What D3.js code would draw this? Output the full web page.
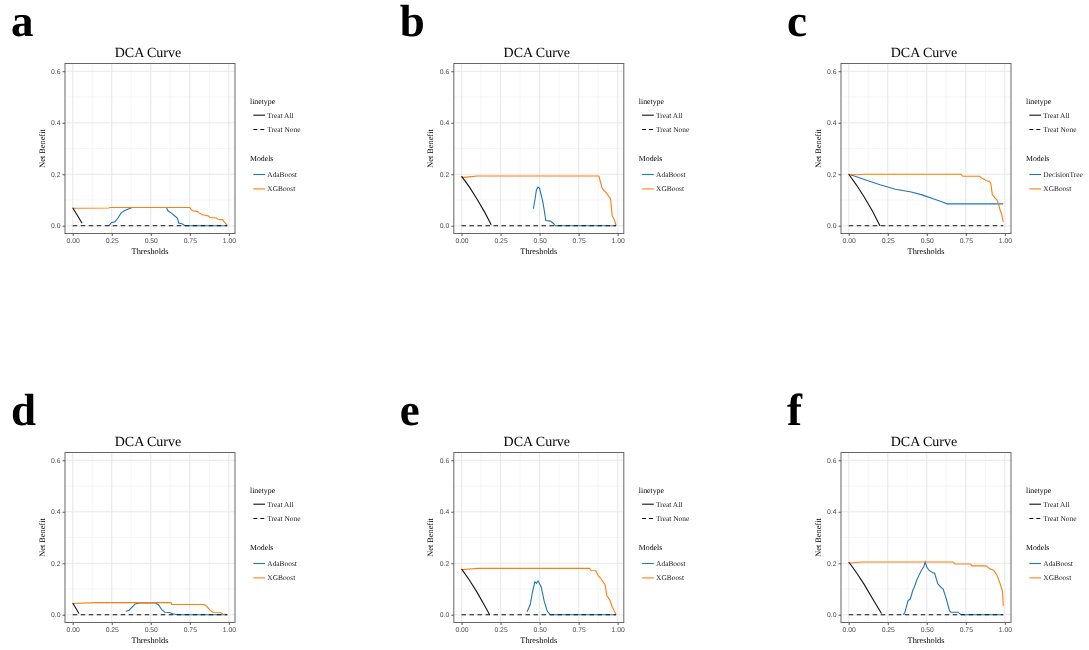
<!DOCTYPE html>
<html>
<head>
<meta charset="utf-8">
<script src="https://cdn.jsdelivr.net/npm/d3@7"></script>
<style>
  body { margin: 0; background: #fff; }
  svg { will-change: transform; }
  text { font-family: "Liberation Serif", "Times New Roman", serif; text-rendering: geometricPrecision; }
  .tick-label { font-family: "Liberation Sans", Arial, sans-serif; fill: #4d4d4d; }
</style>
</head>
<body>
<div id="chart"></div>
<script>
var width = 1089,
    height = 650;

// ticks
var xTicks = [0, 0.25, 0.5, 0.75, 1],
    xMinor = [0.125, 0.375, 0.625, 0.875],
    yTicks = [0, 0.2, 0.4, 0.6],
    yMinor = [0.1, 0.3, 0.5];

// reference line shared by all panels
var treatNone = [[0, 0], [0.99, 0]];

// panel a
var aTreatAll = [[0, 0.07], [0.06, 0.01]];
var aAda = [[0.23, 0], [0.24, 0.006], [0.25, 0.013], [0.27, 0.015], [0.29, 0.03], [0.31, 0.05], [0.33, 0.058], [0.36, 0.066], [0.38, 0.071], [0.6, 0.071], [0.61, 0.058], [0.63, 0.05], [0.65, 0.04], [0.67, 0.03], [0.68, 0.01], [0.7, 0.008], [0.72, 0], [0.99, 0]];
var aXgb = [[0, 0.068], [0.23, 0.069], [0.24, 0.071], [0.75, 0.071], [0.76, 0.062], [0.77, 0.058], [0.8, 0.055], [0.81, 0.05], [0.83, 0.043], [0.87, 0.038], [0.88, 0.032], [0.92, 0.03], [0.93, 0.025], [0.96, 0.024], [0.97, 0.015], [0.99, 0.002]];

// panel b
var bTreatAll = [[0, 0.193], [0.05, 0.151], [0.1, 0.103], [0.15, 0.051], [0.19, 0.004]];
var bAda = [[0.46, 0.066], [0.47, 0.1], [0.48, 0.14], [0.49, 0.15], [0.5, 0.145], [0.51, 0.12], [0.52, 0.095], [0.53, 0.06], [0.54, 0.02], [0.57, 0.018], [0.59, 0.008], [0.6, 0], [0.99, 0]];
var bXgb = [[0, 0.187], [0.05, 0.19], [0.1, 0.193], [0.88, 0.193], [0.89, 0.17], [0.9, 0.146], [0.93, 0.126], [0.955, 0.104], [0.965, 0.04], [0.98, 0.022], [0.99, 0.002]];

// panel c
var cTreatAll = [[0, 0.2], [0.05, 0.158], [0.1, 0.111], [0.15, 0.059], [0.19, 0.012], [0.2, 0]];
var cTree = [[0, 0.2], [0.05, 0.19], [0.1, 0.18], [0.2, 0.159], [0.3, 0.142], [0.4, 0.131], [0.47, 0.12], [0.55, 0.103], [0.6, 0.092], [0.63, 0.085], [0.99, 0.085]];
var cXgb = [[0, 0.2], [0.05, 0.198], [0.1, 0.2], [0.72, 0.2], [0.73, 0.192], [0.84, 0.192], [0.85, 0.185], [0.87, 0.18], [0.88, 0.176], [0.9, 0.172], [0.91, 0.166], [0.92, 0.12], [0.93, 0.115], [0.94, 0.105], [0.95, 0.1], [0.96, 0.084], [0.97, 0.06], [0.98, 0.045], [0.99, 0.015]];

// panel d
var dTreatAll = [[0, 0.046], [0.04, 0.005]];
var dAda = [[0.34, 0.014], [0.36, 0.017], [0.38, 0.03], [0.4, 0.042], [0.43, 0.046], [0.53, 0.046], [0.55, 0.038], [0.57, 0.02], [0.59, 0.01], [0.62, 0.009], [0.64, 0.004], [0.67, 0], [0.99, 0]];
var dXgb = [[0, 0.044], [0.15, 0.047], [0.63, 0.047], [0.635, 0.04], [0.84, 0.04], [0.86, 0.032], [0.87, 0.025], [0.88, 0.017], [0.9, 0.009], [0.95, 0.008], [0.96, 0.003], [0.99, 0.001]];

// panel e
var eTreatAll = [[0, 0.178], [0.05, 0.135], [0.1, 0.087], [0.15, 0.033], [0.18, 0]];
var eAda = [[0.42, 0.012], [0.44, 0.039], [0.455, 0.09], [0.47, 0.128], [0.48, 0.122], [0.49, 0.132], [0.51, 0.109], [0.53, 0.052], [0.55, 0.013], [0.57, 0], [0.99, 0]];
var eXgb = [[0, 0.175], [0.1, 0.18], [0.82, 0.18], [0.83, 0.172], [0.86, 0.171], [0.875, 0.153], [0.9, 0.134], [0.92, 0.116], [0.93, 0.076], [0.95, 0.057], [0.965, 0.031], [0.98, 0.013], [0.99, 0.001]];

// panel f
var fTreatAll = [[0, 0.205], [0.05, 0.163], [0.1, 0.117], [0.15, 0.065], [0.21, 0.005]];
var fAda = [[0.35, 0], [0.36, 0.01], [0.38, 0.055], [0.395, 0.062], [0.41, 0.094], [0.42, 0.107], [0.435, 0.133], [0.45, 0.153], [0.465, 0.172], [0.48, 0.185], [0.49, 0.205], [0.5, 0.185], [0.515, 0.172], [0.54, 0.162], [0.55, 0.162], [0.57, 0.121], [0.59, 0.107], [0.605, 0.1], [0.625, 0.062], [0.645, 0.017], [0.655, 0.01], [0.7, 0.01], [0.72, 0], [0.99, 0]];
var fXgb = [[0, 0.2], [0.08, 0.205], [0.67, 0.205], [0.68, 0.197], [0.78, 0.197], [0.79, 0.19], [0.88, 0.19], [0.9, 0.18], [0.93, 0.172], [0.95, 0.153], [0.97, 0.121], [0.98, 0.1], [0.985, 0.09], [0.99, 0.034]];

var blue = "#1f77b4", orange = "#ff7f0e";

var panels = [
  {letter: "a", col: 0, row: 0, treatAll: aTreatAll, m1: "AdaBoost", d1: aAda, m2: "XGBoost", d2: aXgb},
  {letter: "b", col: 1, row: 0, treatAll: bTreatAll, m1: "AdaBoost", d1: bAda, m2: "XGBoost", d2: bXgb},
  {letter: "c", col: 2, row: 0, treatAll: cTreatAll, m1: "DecisionTree", d1: cTree, m2: "XGBoost", d2: cXgb},
  {letter: "d", col: 0, row: 1, treatAll: dTreatAll, m1: "AdaBoost", d1: dAda, m2: "XGBoost", d2: dXgb},
  {letter: "e", col: 1, row: 1, treatAll: eTreatAll, m1: "AdaBoost", d1: eAda, m2: "XGBoost", d2: eXgb},
  {letter: "f", col: 2, row: 1, treatAll: fTreatAll, m1: "AdaBoost", d1: fAda, m2: "XGBoost", d2: fXgb}
];

var colLeft = [65, 453.8, 841],
    rowTop = [63.5, 452.5],
    size = 170;

var svg = d3.select("#chart")
  .append("svg")
  .attr("width", width)
  .attr("height", height);

svg.append("rect").attr("width", width).attr("height", height).attr("fill", "#fff");

// ggplot style: 5% expansion around data range
var x = d3.scaleLinear().domain([-0.0495, 1.0395]).range([0, size]);
var y = d3.scaleLinear().domain([-0.03, 0.63]).range([size, 0]);

var line = d3.line()
  .x(function(d) { return x(d[0]); })
  .y(function(d) { return y(d[1]); });

panels.forEach(function(p) {
  var L = colLeft[p.col], T = rowTop[p.row];

  svg.append("text")
    .attr("x", L - 54)
    .attr("y", T - 28)
    .attr("font-size", 45)
    .attr("font-weight", "bold")
    .text(p.letter);

  var g = svg.append("g").attr("transform", "translate(" + L + "," + T + ")");

  // grid
  g.selectAll(".xminor").data(xMinor).enter().append("line")
    .attr("x1", x).attr("x2", x).attr("y1", 0).attr("y2", size)
    .attr("stroke", "#f0f0f0").attr("stroke-width", 0.6);
  g.selectAll(".yminor").data(yMinor).enter().append("line")
    .attr("y1", y).attr("y2", y).attr("x1", 0).attr("x2", size)
    .attr("stroke", "#f0f0f0").attr("stroke-width", 0.6);
  g.selectAll(".xmajor").data(xTicks).enter().append("line")
    .attr("x1", x).attr("x2", x).attr("y1", 0).attr("y2", size)
    .attr("stroke", "#e8e8e8").attr("stroke-width", 1.1);
  g.selectAll(".ymajor").data(yTicks).enter().append("line")
    .attr("y1", y).attr("y2", y).attr("x1", 0).attr("x2", size)
    .attr("stroke", "#e8e8e8").attr("stroke-width", 1.1);

  // curves: models first, reference lines on top
  g.append("path").datum(p.d1).attr("d", line)
    .attr("fill", "none").attr("stroke", blue).attr("stroke-width", 1.1);
  g.append("path").datum(p.d2).attr("d", line)
    .attr("fill", "none").attr("stroke", orange).attr("stroke-width", 1.1);
  g.append("path").datum(treatNone).attr("d", line)
    .attr("fill", "none").attr("stroke", "#111").attr("stroke-width", 1.1)
    .attr("stroke-dasharray", "4.5,3.5");
  g.append("path").datum(p.treatAll).attr("d", line)
    .attr("fill", "none").attr("stroke", "#111").attr("stroke-width", 1.1);

  g.append("rect").attr("width", size).attr("height", size)
    .attr("fill", "none").attr("stroke", "#666").attr("stroke-width", 1);

  // axes
  var xAxis = g.append("g").attr("transform", "translate(0," + size + ")")
    .call(d3.axisBottom(x).tickValues(xTicks).tickFormat(d3.format(".2f")).tickSize(2.5).tickPadding(2));
  var yAxis = g.append("g")
    .call(d3.axisLeft(y).tickValues(yTicks).tickFormat(d3.format(".1f")).tickSize(2.5).tickPadding(2));
  [xAxis, yAxis].forEach(function(a) {
    a.select(".domain").remove();
    a.selectAll(".tick line").attr("stroke", "#555");
    a.selectAll(".tick text").attr("class", "tick-label").attr("font-size", 6.8);
  });

  g.append("text")
    .attr("x", size / 2 - 2).attr("y", -7)
    .attr("text-anchor", "middle").attr("font-size", 14)
    .text("DCA Curve");
  g.append("text")
    .attr("x", size / 2).attr("y", size + 20)
    .attr("text-anchor", "middle").attr("font-size", 8.3)
    .text("Thresholds");
  g.append("text")
    .attr("transform", "translate(-20.5," + (size / 2) + ") rotate(-90)")
    .attr("text-anchor", "middle").attr("font-size", 8.3)
    .text("Net Benefit");

  // legend
  var lg = g.append("g").attr("transform", "translate(" + (size + 15) + ",0)");
  var keys = [
    {y: 51.7, label: "Treat All", color: "#111", dash: null},
    {y: 66, label: "Treat None", color: "#111", dash: "4,3"},
    {y: 111, label: p.m1, color: blue, dash: null},
    {y: 125.4, label: p.m2, color: orange, dash: null}
  ];
  lg.append("text").attr("x", 0).attr("y", 37.4).attr("dy", "0.35em").attr("font-size", 7.8).text("linetype");
  lg.append("text").attr("x", 0).attr("y", 94.4).attr("dy", "0.35em").attr("font-size", 7.8).text("Models");
  keys.forEach(function(k) {
    lg.append("line")
      .attr("x1", 3.3).attr("x2", 15).attr("y1", k.y).attr("y2", k.y)
      .attr("stroke", k.color).attr("stroke-width", 1.1)
      .attr("stroke-dasharray", k.dash);
    lg.append("text").attr("x", 17.3).attr("y", k.y).attr("dy", "0.35em")
      .attr("font-size", 7.4).attr("fill", "#222").text(k.label);
  });
});
</script>
</body>
</html>
